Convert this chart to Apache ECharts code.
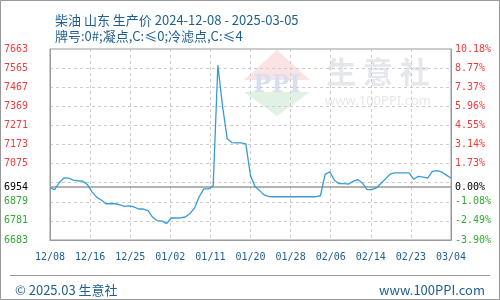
<!DOCTYPE html>
<html>
<head>
<meta charset="utf-8">
<script src="https://cdn.jsdelivr.net/npm/echarts@6/dist/echarts.min.js"></script>
<style>html,body{margin:0;padding:0;background:#fff}#c{width:500px;height:300px}</style>
</head>
<body>
<div id="c"></div>
<script>
const title1 = '柴油 山东 生产价 2024-12-08 - 2025-03-05';
const title2 = '牌号:0#;凝点,C:≤0;冷滤点,C:≤4';
const footerLeft = '© 2025.03 生意社';
const footerRight = 'www.100PPI.com';
const xLabels = ['12/08','12/16','12/25','01/02','01/11','01/20','01/28','02/06','02/14','02/23','03/04'];
const leftTicks = [6683,6781,6879,6954,7075,7173,7271,7369,7467,7565,7663];
const rightLabels = ['-3.90%','-2.49%','-1.08%','0.00%','1.73%','3.14%','4.55%','5.96%','7.37%','8.77%','10.18%'];
const basePrice = 6954;
const prices = [
  6950,6941,6978,7001,7000,6990,6987,6985,6968,6930,
  6903,6888,6869,6869,6869,6863,6856,6858,6853,6842,
  6842,6834,6800,6782,6781,6767,6796,6796,6797,6801,
  6818,6847,6905,6945,6945,6962,7580,7370,7203,7183,
  7181,7181,7176,7012,6956,6935,6913,6906,6905,6905,
  6905,6905,6905,6905,6905,6905,6905,6905,6910,7020,
  7033,6990,6972,6972,6970,6984,6993,6975,6941,6941,
  6950,6974,6998,7022,7027,7027,7027,7027,6995,7010,
  7006,7001,7035,7039,7032,7016,7001
];

const RED = '#f03c3c', GREEN = '#33aa33', BLUE = '#1f5f8f';
const monoFont = 'DejaVu Sans Mono';
const cjkFont = '"Noto Sans CJK SC", "Noto Sans", sans-serif';
function labelColor(v) {
  v = Number(v);
  if (Math.abs(v - basePrice) < 0.5) return '#000';
  return v > basePrice ? RED : GREEN;
}

const chart = echarts.init(document.getElementById('c'), null, {renderer: 'canvas'});
chart.setOption({
  animation: false,
  backgroundColor: '#fff',
  title: [
    {text: title1, left: 50, top: 9, textStyle: {fontSize: 13, fontWeight: 'normal', color: BLUE, fontFamily: cjkFont}},
    {text: title2, left: 50, top: 25, textStyle: {fontSize: 13, fontWeight: 'normal', color: BLUE, fontFamily: cjkFont}},
    {text: footerLeft, left: 10, top: 279, textStyle: {fontSize: 13, fontWeight: 'normal', color: BLUE, fontFamily: cjkFont}},
    {text: footerRight, right: 10, top: 279, textStyle: {fontSize: 13, fontWeight: 'normal', color: BLUE, fontFamily: cjkFont}}
  ],
  graphic: [
    {type: 'rect', shape: {x: 0.5, y: 0.5, width: 499, height: 299}, style: {fill: 'none', stroke: '#999', lineWidth: 1}, z: 100},
    {type: 'line', shape: {x1: 10, y1: 275.5, x2: 490, y2: 275.5}, style: {stroke: '#999', lineWidth: 1}},
    {type: 'polygon', shape: {points: [[244, 80], [277, 50], [310, 80]]}, style: {fill: '#fbe3e3'}, z: -1},
    {type: 'polygon', shape: {points: [[244, 92], [277, 116], [310, 92]]}, style: {fill: '#e2f2e2'}, z: -1},
    {type: 'text', x: 277, y: 86, style: {text: 'PPI', fill: '#d9dff0', font: 'bold 24px "DejaVu Serif"', align: 'center', verticalAlign: 'middle'}, z: -1},
    {type: 'text', x: 378, y: 72, style: {text: '生 意 社', fill: '#e4e8ec', font: 'bold 30px "Noto Sans CJK SC"', align: 'center', verticalAlign: 'middle'}, z: -1},
    {type: 'text', x: 378, y: 101, style: {text: 'www.100PPI.com', fill: '#e4e8ec', font: '13px "Noto Sans"', align: 'center', verticalAlign: 'middle'}, z: -1}
  ],
  grid: {left: 50, right: 49, top: 49, bottom: 60, show: true, borderColor: '#999', borderWidth: 1},
  xAxis: {
    type: 'value', min: 0, max: prices.length - 1, interval: (prices.length - 1) / 10,
    axisLine: {show: true, onZero: false, lineStyle: {color: '#999', width: 1}},
    axisTick: {show: false},
    splitLine: {show: true, lineStyle: {color: '#ccc', type: [3, 3], width: 1}},
    axisLabel: {
      margin: 12, fontSize: 10, fontFamily: monoFont, color: BLUE,
      showMinLabel: true, showMaxLabel: true,
      formatter: (v, i) => xLabels[i] !== undefined ? xLabels[i] : ''
    }
  },
  yAxis: [
    {
      type: 'value', min: leftTicks[0], max: leftTicks[leftTicks.length - 1], interval: 98,
      axisLine: {show: true, lineStyle: {color: '#999', width: 1}},
      axisTick: {show: false},
      splitLine: {show: true, lineStyle: {color: '#ccc', type: [3, 3], width: 1}},
      axisLabel: {
        customValues: leftTicks, margin: 22, fontSize: 10, fontFamily: monoFont,
        formatter: v => String(Math.round(v)),
        color: v => labelColor(v)
      }
    },
    {
      type: 'value', min: leftTicks[0], max: leftTicks[leftTicks.length - 1], interval: 98,
      position: 'right',
      axisLine: {show: true, lineStyle: {color: '#999', width: 1}},
      axisTick: {show: false},
      splitLine: {show: false},
      axisLabel: {
        customValues: leftTicks, margin: 4, fontSize: 10, fontFamily: monoFont,
        formatter: v => { const k = leftTicks.indexOf(Math.round(v)); return k >= 0 ? rightLabels[k] : ''; },
        color: v => labelColor(v)
      }
    }
  ],
  series: [{
    type: 'line',
    data: prices.map((v, i) => [i, v]),
    showSymbol: false,
    symbol: 'none',
    lineStyle: {color: '#3a9ad9', width: 1.3},
    z: 5,
    markLine: {
      silent: true, symbol: 'none', label: {show: false},
      lineStyle: {color: '#999', type: 'solid', width: 1.5},
      data: [{yAxis: basePrice}]
    }
  }]
});
</script>
</body>
</html>
